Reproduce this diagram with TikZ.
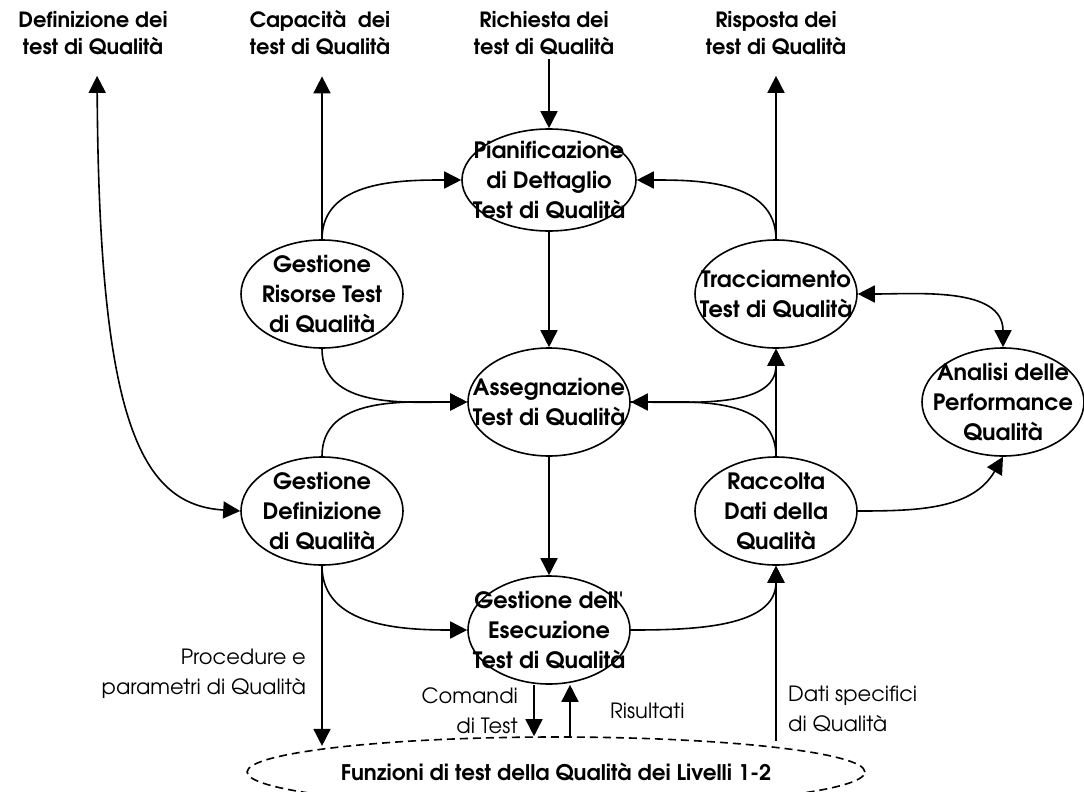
\documentclass[tikz,border=0pt]{standalone}
\usepackage{fontspec}
\setmainfont{texgyreadventor}[Extension=.otf,UprightFont=*-regular,BoldFont=*-bold]
\usetikzlibrary{arrows.meta,shapes}

\tikzset{
  proc/.style={ellipse,draw,minimum width=162pt,minimum height=108pt,inner sep=0pt},
  txt/.style={align=center,font=\fontsize{22.5}{30}\selectfont\bfseries},
  io/.style={align=center,font=\fontsize{21}{27}\selectfont\bfseries},
  flow/.style={align=left,font=\fontsize{21}{30}\selectfont},
}

\begin{document}
\begin{tikzpicture}[->,>={Triangle[length=17pt,width=17pt]},line width=1.6pt,
                    node distance=227pt,auto]
  \useasboundingbox (0,0) rectangle (1084pt,-792pt);

  \node[proc,minimum width=174pt,minimum height=102pt,
        label={[txt]center:{Pianificazione\\di Dettaglio\\Test di Qualità}}] (P) at (549pt,-180pt) {};
  \node[proc,label={[txt]center:{Gestione\\Risorse Test\\di Qualità}}]   (GR) [left of=P,yshift=-114pt]  {};
  \node[proc,label={[txt]center:{Tracciamento\\Test di Qualità}}]        (T)  [right of=P,yshift=-114pt] {};
  \node[proc,label={[txt]center:{Assegnazione\\Test di Qualità}}]        (A)  [below of=P,yshift=5pt]    {};
  \node[proc,label={[txt]center:{Gestione\\Definizione\\di Qualità}}]    (GD) [left of=A,yshift=-109pt]  {};
  \node[proc,label={[txt]center:{Raccolta\\Dati della\\Qualità}}]        (R)  [right of=A,yshift=-109pt] {};
  \node[proc,label={[txt]center:{Analisi delle\\Performance\\Qualità}}]  (AN) [right of=T,yshift=-108pt] {};
  \node[proc,label={[txt]center:{Gestione dell\textquotesingle\\Esecuzione\\Test di Qualità}}] (E) [below of=A,yshift=-1pt] {};
  \node[ellipse,draw,dash pattern=on 8pt off 5pt,minimum width=600pt,minimum height=70pt,
        font=\fontsize{21.5}{22}\selectfont\bfseries]
        (F) [below of=E,xshift=7pt,yshift=85pt] {Funzioni di test della Qualità dei Livelli 1-2};

  % inputs and outputs
  \node[io] (qdef) at (93pt,-33pt)  {Definizione dei\\test di Qualità};
  \node[io] (qcap) at (320pt,-33pt) {Capacità\ \ dei\\test di Qualità};
  \node[io] (qreq) at (544pt,-33pt) {Richiesta dei\\test di Qualità};
  \node[io] (qres) at (776pt,-33pt) {Risposta dei\\test di Qualità};

  \draw (qreq.south -| P.north) -- (P.north);
  \draw[shorten >=17pt] (GR.north) -- (GR.north |- qcap.south);
  \draw[shorten >=17pt] (T.north) -- (T.north |- qres.south);
  \draw[<->,shorten <=17pt] ([xshift=4pt]qdef.south) .. controls (99pt,-420pt) and (140pt,-505pt) .. (GD.west);

  \draw (GR.north) to[out=90,in=180] (P.west);
  \draw (T.north) to[out=90,in=0] (P.east);
  \draw (P) -- (A);
  \draw (GR.south) to[out=-90,in=180] (A.west);
  \draw (GD.north) to[out=90,in=180] (A.west);
  \draw (R.north) to[out=90,in=0] (A.east);
  \draw (A.east) to[out=0,in=-90] (T.south);
  \draw (R) -- (T);
  \draw[<->] (T.east) to[out=0,in=90] (AN.north);
  \draw (R.east) to[out=0,in=-120] (AN.south);
  \draw (GD.south) to[out=-90,in=180] (E.west);
  \draw (A) -- (E);
  \draw (E.east) to[out=0,in=-90] (R.south);

  % links to levels 1-2
  \draw (GD.south) -- (GD.south |- F.173)
    node[flow,pos=0.6,left=12pt,align=right] {Procedure e\\parametri di Qualità};
  \draw ([xshift=-15pt]E.south) -- ([xshift=-15pt]E.south |- F.north)
    node[flow,midway,left=12pt,align=right] {Comandi\\di Test};
  \draw ([xshift=21pt]E.south |- F.north) -- ([xshift=21pt]E.south)
    node[flow,midway,right=36pt] {Risultati};
  \draw (R.south |- F.12) -- (R.south)
    node[flow,pos=0.18,right=8pt] {Dati specifici\\di Qualità};

\end{tikzpicture}
\end{document}
